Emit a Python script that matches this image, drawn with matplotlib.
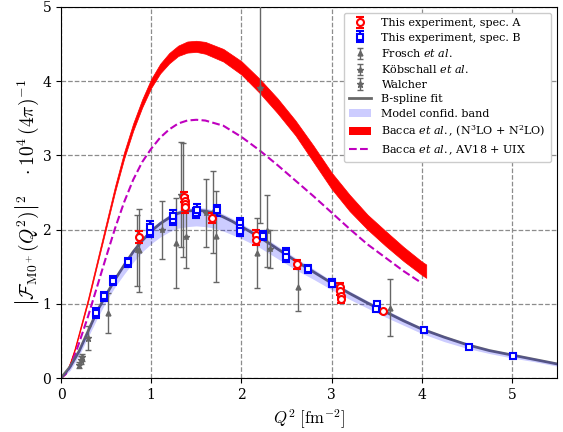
import numpy as np
import matplotlib
matplotlib.use('Agg')
import matplotlib.pyplot as plt
from matplotlib.font_manager import FontProperties
from matplotlib.patches import Patch
from matplotlib.lines import Line2D

plt.rcParams['font.family'] = 'DejaVu Serif'
plt.rcParams['mathtext.fontset'] = 'cm'

# B-spline fit and its band
q_fit = [0, 0.1, 0.2, 0.3, 0.4, 0.5, 0.6, 0.7, 0.8, 0.9, 1.0, 1.1, 1.2, 1.3, 1.4, 1.5, 1.6, 1.7, 1.8,
         1.9, 2.0, 2.2, 2.4, 2.6, 2.8, 3.0, 3.2, 3.4, 3.6, 3.8, 4.0, 4.25, 4.5, 4.75, 5.0, 5.25, 5.5]
f_fit = [0, 0.15, 0.36, 0.63, 0.9, 1.12, 1.33, 1.52, 1.7, 1.85, 1.98, 2.08, 2.16, 2.22, 2.25, 2.26,
         2.25, 2.22, 2.17, 2.11, 2.04, 1.9, 1.74, 1.58, 1.43, 1.28, 1.14, 1.01, 0.89, 0.77, 0.66,
         0.55, 0.45, 0.37, 0.31, 0.25, 0.19]
band_lo = [0, 0.1, 0.3, 0.55, 0.8, 1.03, 1.23, 1.4, 1.56, 1.7, 1.81, 1.9, 1.97, 2.02, 2.04, 2.05,
           2.04, 2.02, 1.98, 1.93, 1.88, 1.76, 1.61, 1.46, 1.33, 1.19, 1.06, 0.94, 0.82, 0.71, 0.6,
           0.49, 0.4, 0.33, 0.27, 0.22, 0.16]
band_hi = [0, 0.18, 0.4, 0.67, 0.94, 1.16, 1.37, 1.56, 1.74, 1.89, 2.02, 2.12, 2.2, 2.26, 2.29, 2.3,
           2.29, 2.26, 2.21, 2.15, 2.08, 1.94, 1.78, 1.62, 1.47, 1.31, 1.17, 1.04, 0.92, 0.8, 0.68,
           0.57, 0.47, 0.39, 0.33, 0.27, 0.21]

# Bacca et al. (N3LO + N2LO) band
q_th = [0, 0.05, 0.1, 0.15, 0.2, 0.3, 0.4, 0.5, 0.6, 0.7, 0.8, 0.9, 1.0, 1.1, 1.2, 1.3, 1.4, 1.5, 1.6,
        1.8, 2.0, 2.2, 2.4, 2.6, 2.8, 3.0, 3.2, 3.4, 3.6, 3.8, 4.0, 4.05]
bacca_mid = [0, 0.06, 0.2, 0.38, 0.6, 1.05, 1.55, 2.05, 2.55, 3.0, 3.38, 3.7, 3.97, 4.17, 4.31, 4.41,
             4.46, 4.47, 4.45, 4.35, 4.18, 3.94, 3.67, 3.37, 3.02, 2.66, 2.36, 2.1, 1.88, 1.67,
             1.48, 1.44]
bacca_half = [0, 0.005, 0.01, 0.015, 0.02, 0.025, 0.03, 0.035, 0.04, 0.045, 0.05, 0.055, 0.06, 0.065,
              0.07, 0.07, 0.075, 0.075, 0.08, 0.085, 0.09, 0.095, 0.1, 0.1, 0.11, 0.11, 0.11, 0.1,
              0.1, 0.095, 0.09, 0.09]

# Bacca et al., AV18 + UIX
q_av = [0, 0.05, 0.1, 0.15, 0.2, 0.3, 0.4, 0.5, 0.6, 0.7, 0.8, 0.9, 1.0, 1.1, 1.2, 1.3, 1.4, 1.5,
        1.6, 1.8, 2.0, 2.2, 2.4, 2.6, 2.8, 3.0, 3.2, 3.4, 3.6, 3.8, 4.0]
f_av = [0, 0.05, 0.15, 0.3, 0.47, 0.83, 1.23, 1.63, 2.02, 2.37, 2.67, 2.91, 3.09, 3.24, 3.35, 3.43,
        3.47, 3.48, 3.47, 3.4, 3.25, 3.07, 2.87, 2.66, 2.45, 2.23, 2.01, 1.8, 1.62, 1.44, 1.28]

# this experiment
qA = [0.87, 1.36, 1.37, 1.37, 1.38, 1.67, 2.16, 2.16, 2.62, 3.09, 3.09, 3.10, 3.10, 3.57]
fA = [1.90, 2.44, 2.38, 2.34, 2.30, 2.16, 1.93, 1.86, 1.53, 1.23, 1.17, 1.11, 1.06, 0.90]
eA = [0.08, 0.07, 0.07, 0.07, 0.07, 0.07, 0.07, 0.07, 0.06, 0.05, 0.05, 0.05, 0.05, 0.02]

qB = [0.39, 0.48, 0.58, 0.74, 0.99, 0.99, 1.24, 1.24, 1.50, 1.51, 1.73, 1.98, 1.99, 1.99, 2.24,
      2.50, 2.50, 2.74, 3.00, 3.00, 3.50, 3.49, 4.02, 4.52, 5.01]
fB = [0.88, 1.10, 1.31, 1.56, 1.97, 2.04, 2.13, 2.19, 2.22, 2.27, 2.26, 2.09, 2.02, 1.98, 1.92,
      1.69, 1.63, 1.47, 1.30, 1.27, 1.00, 0.93, 0.65, 0.42, 0.30]
eB = [0.07, 0.06, 0.06, 0.06, 0.07, 0.07, 0.07, 0.07, 0.07, 0.07, 0.07, 0.07, 0.07, 0.07, 0.06,
      0.06, 0.06, 0.05, 0.04, 0.04, 0.03, 0.03, 0.02, 0.02, 0.02]

# older data
qF = [0.52, 0.87, 1.28, 1.35, 1.72, 2.17, 2.63, 3.65]
fF = [0.87, 1.72, 1.82, 2.40, 1.91, 1.68, 1.22, 0.95]
eF = [0.27, 0.56, 0.61, 0.77, 0.61, 0.47, 0.32, 0.38]

qK = [0.84, 1.12, 1.33, 1.39, 1.61, 1.68, 2.21, 2.28, 2.32]
fK = [1.72, 1.99, 2.47, 1.90, 2.22, 2.24, 3.91, 1.98, 1.74]
eK = [0.48, 0.39, 0.71, 0.42, 0.46, 0.55, 1.82, 0.49, 0.26]

qW = [0.20, 0.22, 0.23, 0.30]
fW = [0.18, 0.24, 0.28, 0.54]
eW = [0.04, 0.05, 0.05, 0.16]

fig = plt.figure(figsize=(5.63, 4.32), dpi=100)
ax = fig.add_axes([61/563, 54/432, 496/563, 371/432])

mid = np.array(bacca_mid)
half = np.array(bacca_half)
ax.fill_between(q_th, mid - half, mid + half, color='red', lw=0.5, zorder=2)
ax.plot(q_av, f_av, '--', color='m', lw=1.5, zorder=2)
ax.plot(q_fit, f_fit, color='dimgray', lw=2, zorder=2)
ax.fill_between(q_fit, band_lo, band_hi, color='blue', alpha=0.2, lw=0, zorder=3)

gray = '0.4'
ebF = ax.errorbar(qF, fF, yerr=eF, fmt='^', ms=3.5, color=gray, ecolor=gray, elinewidth=1,
                  capsize=2, capthick=1, zorder=4)
ebK = ax.errorbar(qK, fK, yerr=eK, fmt='*', ms=4, color=gray, ecolor=gray, elinewidth=1,
                  capsize=2, capthick=1, zorder=4)
ebW = ax.errorbar(qW, fW, yerr=eW, fmt='*', ms=5, color=gray, ecolor=gray, elinewidth=1,
                  capsize=2, capthick=1, zorder=4)
for eb in (ebF, ebK, ebW):
    for cap in eb[1]:
        cap.set_color('0.15')
ebA = ax.errorbar(qA, fA, yerr=eA, fmt='o', ms=5, mfc='white', mec='red', mew=1.5, color='red',
                  elinewidth=1.5, capsize=3, capthick=1.5, zorder=5)
ebB = ax.errorbar(qB, fB, yerr=eB, fmt='s', ms=5, mfc='white', mec='blue', mew=1.5, color='blue',
                  elinewidth=1.5, capsize=3, capthick=1.5, zorder=5)

ax.set_xlim(0, 5.5)
ax.set_ylim(0, 5)
ax.set_xticks([0, 1, 2, 3, 4, 5])
ax.set_yticks([0, 1, 2, 3, 4, 5])
ax.tick_params(labelsize=10)
ax.grid(True, ls='--', color='0.55', lw=0.9)
ax.set_axisbelow(True)
ax.set_xlabel(r'$Q^2\ [\mathrm{fm}^{-2}]$', fontsize=12)
ax.set_ylabel(r'$\left|\mathcal{F}_{\mathrm{M0}^+}(Q^2)\right|^2\quad \cdot 10^4\,(4\pi)^{-1}$',
              fontsize=14, labelpad=1)

handles = [ebA, ebB, ebF, ebK, ebW,
           Line2D([], [], color='dimgray', lw=2),
           Patch(facecolor='blue', alpha=0.2),
           Patch(facecolor='red'),
           Line2D([], [], color='m', ls='--', lw=1.5)]
labels = ['This experiment, spec. A', 'This experiment, spec. B', r'Frosch $\mathit{et\ al.}$',
          r'Köbschall $\mathit{et\ al.}$', 'Walcher', 'B-spline fit', 'Model confid. band',
          r'Bacca $\mathit{et\ al.}$, (N$^3$LO + N$^2$LO)', r'Bacca $\mathit{et\ al.}$, AV18 + UIX']
prop = FontProperties(family='DejaVu Serif', size=8, math_fontfamily='dejavuserif')
ax.legend(handles, labels, loc='upper right', prop=prop, framealpha=1, borderpad=0.5,
          labelspacing=0.4, handlelength=2.0, handletextpad=0.9)

plt.savefig('out.png', dpi=100)
